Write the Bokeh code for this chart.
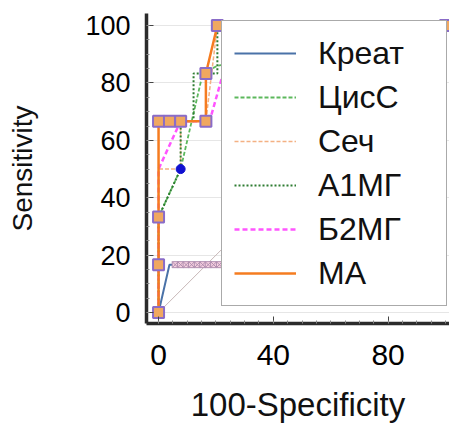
from bokeh.plotting import figure
from bokeh.models import Range1d, FixedTicker, Legend, LegendItem
from bokeh.embed import file_html
from bokeh.resources import INLINE

# ---- data (100-Specificity, Sensitivity) ----
kreat_x = [0, 3.8, 5.8, 7.7, 9.6, 11.5, 13.5, 15.4, 17.3, 19.2, 21.2, 100]
kreat_y = [0, 16.7, 16.7, 16.7, 16.7, 16.7, 16.7, 16.7, 16.7, 16.7, 16.7, 100]
cis_x = [0, 0, 7.7, 15.4, 20.5, 100]
cis_y = [0, 33.3, 50, 83.3, 86, 100]
sech_x = [0, 0, 7.7, 7.7, 16.5, 20.5, 100]
sech_y = [0, 50, 50, 66.7, 66.7, 100, 100]
a1mg_x = [0, 0, 7.7, 7.7, 12.2, 12.2, 20.5, 20.5, 100]
a1mg_y = [0, 33.3, 50, 66.7, 66.7, 83.3, 83.3, 100, 100]
b2mg_x = [0, 0, 7.7, 17.8, 22.5, 100]
b2mg_y = [0, 50, 66.7, 66.7, 83.3, 100]
ma_x = [0, 0, 0, 0, 3.8, 7.7, 16.5, 16.5, 20.5, 100]
ma_y = [0, 16.7, 33.3, 66.7, 66.7, 66.7, 66.7, 83.3, 100, 100]
diag_x = [0, 100]
diag_y = [0, 100]
opt_x = [7.7]
opt_y = [50]
names = ["Креат", "ЦисС", "Сеч", "А1МГ", "Б2МГ", "МА"]
x_ticks = [0, 40, 80]
y_ticks = [0, 20, 40, 60, 80, 100]

FONT = "Liberation Sans"

p = figure(width=449, height=427, output_backend="svg", toolbar_location=None,
           x_range=Range1d(-4.2, 101.4), y_range=Range1d(-3.8, 104.2),
           min_border_left=146, min_border_right=0, min_border_top=13,
           min_border_bottom=104)
p.outline_line_color = None
p.background_fill_color = "white"
p.border_fill_color = "white"

# grid
p.xgrid.grid_line_color = None
p.ygrid.grid_line_color = "#e6e6e6"
p.ygrid.grid_line_width = 1
p.ygrid.ticker = FixedTicker(ticks=y_ticks)

# axes
p.xaxis.ticker = FixedTicker(ticks=x_ticks, minor_ticks=list(range(0, 101, 5)))
p.yaxis.ticker = FixedTicker(ticks=y_ticks, minor_ticks=list(range(0, 101, 5)))
for ax in (p.xaxis[0], p.yaxis[0]):
    ax.axis_line_color = "#2b2b2b"
    ax.axis_line_width = 3.5
    ax.major_tick_in = 7
    ax.major_tick_out = 0
    ax.minor_tick_in = 3
    ax.minor_tick_out = 0
    ax.major_tick_line_color = "#444444"
    ax.minor_tick_line_color = "#888888"
    ax.major_label_text_font = FONT
    ax.major_label_text_color = "black"
    ax.axis_label_text_font = FONT
    ax.axis_label_text_font_style = "normal"
    ax.axis_label_text_color = "#111111"
p.xaxis.major_label_text_font_size = "30px"
p.yaxis.major_label_text_font_size = "27px"
p.xaxis.axis_label_text_font_size = "33px"
p.yaxis.axis_label_text_font_size = "28px"
p.xaxis.axis_label = "100-Specificity"
p.yaxis.axis_label = "Sensitivity"
p.xaxis.major_label_standoff = 21
p.xaxis.axis_label_standoff = 18
p.yaxis.major_label_standoff = 16
p.yaxis.axis_label_standoff = 44

# diagonal reference
p.line(diag_x, diag_y, line_color="#c8b8b8", line_width=1)

r_kreat = p.line(kreat_x, kreat_y, line_color="#4a72a8", line_width=2)
r_cis = p.line(cis_x, cis_y, line_color="#5cb85c", line_width=1.8, line_dash="4 2")
r_sech = p.line(sech_x, sech_y, line_color="#f4b183", line_width=1.5, line_dash="4 2")
r_a1 = p.line(a1mg_x, a1mg_y, line_color="#2e7d32", line_width=2, line_dash="2 2")
r_b2 = p.line(b2mg_x, b2mg_y, line_color="#ff55ff", line_width=2.5, line_dash="5 3")
r_ma = p.line(ma_x, ma_y, line_color="#f57c20", line_width=2.5)

# markers
p.scatter(kreat_x[2:-1], kreat_y[2:-1], marker="square_x", size=6,
          fill_color="#f7d0e0", line_color="#b08fb0", line_width=1)
p.scatter(ma_x, ma_y, marker="square", size=11, fill_color="#f0a860",
          line_color="#8a6cc8", line_width=2)
p.scatter(opt_x, opt_y, marker="circle", size=9, fill_color="#1010d0",
          line_color="#1010d0")

legend = Legend(items=[LegendItem(label=n, renderers=[r]) for n, r in
                       zip(names, [r_kreat, r_cis, r_sech, r_a1, r_b2, r_ma])],
                location=(75, 17))
legend.label_text_font = FONT
legend.label_text_font_size = "32px"
legend.label_text_color = "#111111"
legend.glyph_width = 62
legend.glyph_height = 40
legend.label_height = 40
legend.label_width = 116
legend.label_standoff = 22
legend.spacing = 4
legend.padding = 12
legend.margin = 0
legend.border_line_color = "#555555"
legend.border_line_width = 1.5
legend.background_fill_color = "white"
legend.background_fill_alpha = 1.0
p.add_layout(legend, "center")

open("out.html", "w").write(file_html(p, INLINE))
